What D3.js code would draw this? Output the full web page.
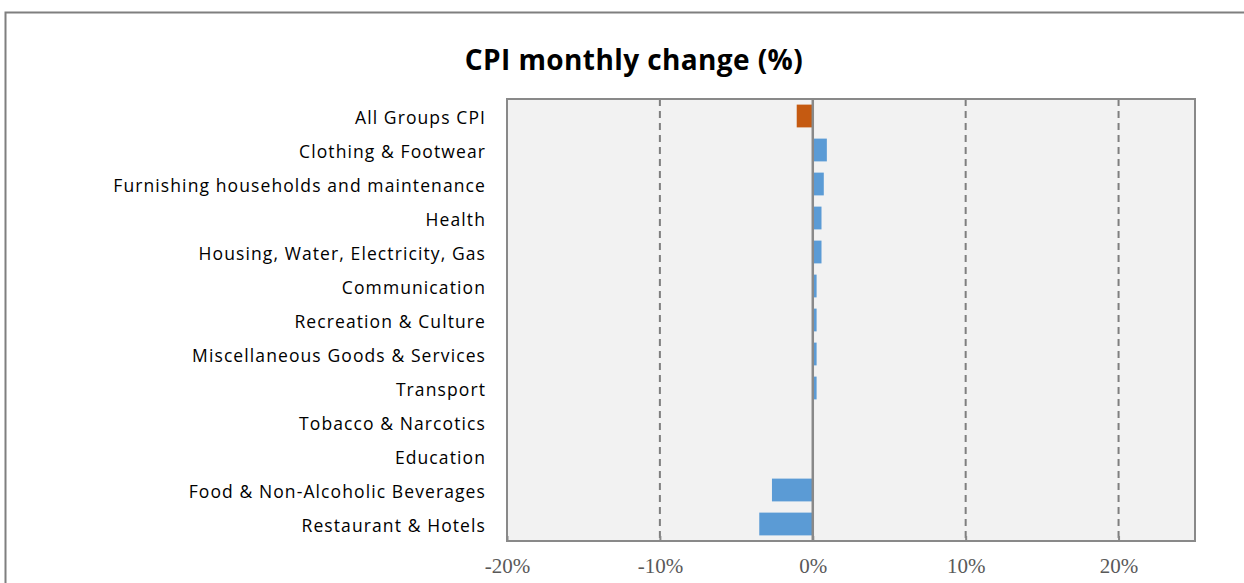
<!DOCTYPE html>
<html>
<head>
<meta charset="utf-8">
<script src="https://cdn.jsdelivr.net/npm/d3@7"></script>
<style>
  body { margin: 0; background: #fff; }
  svg { display: block; }
</style>
</head>
<body>
<div id="chart"></div>
<script>
var categories = [
  'All Groups CPI',
  'Clothing & Footwear',
  'Furnishing households and maintenance',
  'Health',
  'Housing, Water, Electricity, Gas',
  'Communication',
  'Recreation & Culture',
  'Miscellaneous Goods & Services',
  'Transport',
  'Tobacco & Narcotics',
  'Education',
  'Food & Non-Alcoholic Beverages',
  'Restaurant & Hotels'
];
var values = [-1.05, 0.92, 0.72, 0.57, 0.57, 0.25, 0.25, 0.25, 0.25, 0, 0, -2.67, -3.5];
var tickValues = [-20, -10, 0, 10, 20];

var width = 1244, height = 583;
var margin = { top: 99, right: 49, bottom: 42, left: 507 };

var svg = d3.select('#chart').append('svg')
    .attr('width', width)
    .attr('height', height);

// outer chart frame
svg.append('rect')
    .attr('x', 5.5).attr('y', 12.5)
    .attr('width', width + 10).attr('height', height + 10)
    .attr('fill', 'none')
    .attr('stroke', '#7f7f7f')
    .attr('stroke-width', 2);

svg.append('text')
    .attr('x', 634).attr('y', 70)
    .attr('text-anchor', 'middle')
    .attr('font-family', 'Open Sans, sans-serif')
    .attr('font-weight', 'bold')
    .attr('font-size', 28)
    .attr('letter-spacing', 0.4)
    .text('CPI monthly change (%)');

var x = d3.scaleLinear()
    .domain([-20, 25])
    .range([margin.left, width - margin.right]);

var y = d3.scaleBand()
    .domain(categories)
    .range([margin.top, height - margin.bottom])
    .paddingInner(0.33)
    .paddingOuter(0.165);

// plot background
svg.append('rect')
    .attr('x', x(-20)).attr('y', margin.top)
    .attr('width', x(25) - x(-20))
    .attr('height', height - margin.bottom - margin.top)
    .attr('fill', '#f2f2f2');

// dashed gridlines
svg.append('g').selectAll('line')
    .data(tickValues.filter(function (d) { return d !== 0 && d !== -20; }))
    .enter()
  .append('line')
    .attr('x1', function (d) { return x(d); })
    .attr('x2', function (d) { return x(d); })
    .attr('y1', margin.top)
    .attr('y2', height - margin.bottom)
    .attr('stroke', '#7f7f7f')
    .attr('stroke-width', 2)
    .attr('stroke-dasharray', '7,5');

// bars
svg.append('g').selectAll('rect')
    .data(values)
    .enter()
  .append('rect')
    .attr('x', function (d) { return x(Math.min(0, d)); })
    .attr('y', function (d, i) { return y(categories[i]); })
    .attr('width', function (d) { return Math.abs(x(d) - x(0)); })
    .attr('height', y.bandwidth())
    .attr('fill', function (d, i) { return i === 0 ? '#c55a11' : '#5b9bd5'; });

// zero line
svg.append('line')
    .attr('x1', x(0)).attr('x2', x(0))
    .attr('y1', margin.top).attr('y2', height - margin.bottom)
    .attr('stroke', '#898989')
    .attr('stroke-width', 2.5);

// plot border
svg.append('rect')
    .attr('x', x(-20)).attr('y', margin.top)
    .attr('width', x(25) - x(-20))
    .attr('height', height - margin.bottom - margin.top)
    .attr('fill', 'none')
    .attr('stroke', '#898989')
    .attr('stroke-width', 2);

// bottom axis
var axis = svg.append('g')
    .attr('transform', 'translate(0,' + (height - margin.bottom) + ')')
    .call(d3.axisBottom(x).tickValues(tickValues).tickSize(-5).tickPadding(17)
      .tickFormat(function (d) { return d + '%'; }));
axis.select('.domain').remove();
axis.selectAll('.tick line').attr('stroke', '#898989').attr('stroke-width', 2);
axis.selectAll('.tick text')
    .attr('font-family', 'Liberation Serif, serif')
    .attr('font-size', 21)
    .attr('fill', '#595959');

// category labels
svg.append('g').selectAll('text')
    .data(categories)
    .enter()
  .append('text')
    .attr('x', 486)
    .attr('y', function (d) { return y(d) + y.bandwidth() / 2; })
    .attr('dy', '0.45em')
    .attr('text-anchor', 'end')
    .attr('font-family', 'Open Sans, sans-serif')
    .attr('font-size', 17.5)
    .attr('letter-spacing', 1.1)
    .attr('fill', '#000')
    .text(function (d) { return d; });
</script>
</body>
</html>
